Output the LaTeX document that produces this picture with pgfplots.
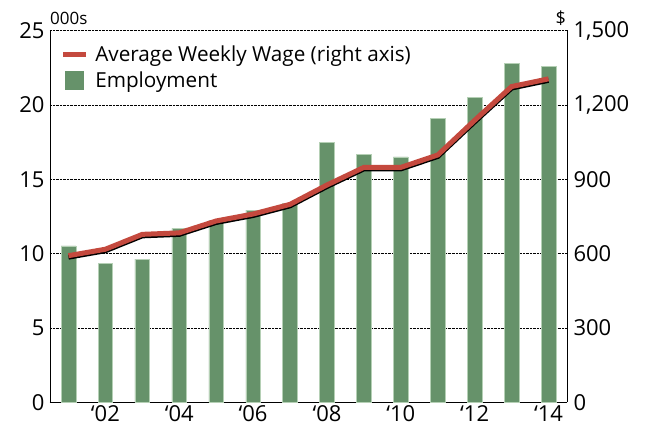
\documentclass[border=0pt]{standalone}
\usepackage{pgfplots}
\pgfplotsset{compat=1.18}
\usepackage{fontspec}
\setmainfont{Open Sans}
\definecolor{barg}{HTML}{66926A}
\definecolor{baredge}{HTML}{B5D0B5}
\definecolor{wred}{HTML}{C4493E}
\pgfplotstableread{
year emp wage
2001 10.52 592
2002 9.33 618
2003 9.63 678
2004 11.71 684
2005 12.25 732
2006 12.92 760
2007 13.40 799
2008 17.50 877
2009 16.69 948
2010 16.51 948
2011 19.11 998
2012 20.50 1138
2013 22.81 1274
2014 22.58 1305
}\data
\begin{document}
\begin{tikzpicture}[x=1bp,y=1bp]
\begin{axis}[
  at={(0,0)}, anchor=south west,
  width=517bp, height=372bp, scale only axis,
  xmin=2000.5, xmax=2014.5, ymin=0, ymax=25,
  axis x line*=bottom, axis y line*=left,
  axis line style={line width=0.8bp},
  xtick={2002,2004,...,2014},
  xticklabels={‘02,‘04,‘06,‘08,‘10,‘12,‘14},
  ytick={0,5,...,25},
  major tick length=0pt,
  ymajorgrids, grid style={black, densely dotted, line width=0.6bp},
  tick label style={font=\fontsize{22bp}{24bp}\selectfont},
  /pgf/number format/assume math mode=true,
  yticklabel style={xshift=-2bp},
  xticklabel style={yshift=0bp},
  legend style={at={(rel axis cs:0.02,0.965)}, anchor=north west, draw=none, fill=none,
    font=\fontsize{20.7bp}{23bp}\selectfont, row sep=5bp, inner sep=0pt,
    cells={anchor=west}},
  legend cell align=left,
]
\addlegendimage{legend image code/.code={\draw[wred, line width=5bp] (0bp,0bp) -- (23bp,0bp);\path (30bp,0bp);}}
\addlegendentry{Average Weekly Wage (right axis)}
\addplot[ybar, bar width=14.7bp, fill=barg, draw=baredge, line width=0.5bp,
  legend image code/.code={\fill[barg] (2bp,-9bp) rectangle (20bp,9bp);\path (30bp,0bp);}]
  table[x=year, y=emp] {\data};
\addlegendentry{Employment}
\end{axis}
\begin{axis}[
  at={(0,0)}, anchor=south west,
  width=517bp, height=372bp, scale only axis,
  xmin=2000.5, xmax=2014.5, ymin=0, ymax=1500,
  axis x line=none, axis y line*=right,
  axis line style={line width=0.8bp},
  ytick={0,300,...,1500},
  major tick length=0pt,
  tick label style={font=\fontsize{22bp}{24bp}\selectfont},
  /pgf/number format/assume math mode=true,
  yticklabel style={xshift=3bp},
]
\addplot[black, line width=5bp, yshift=-1.5bp] table[x=year, y=wage] {\data};
\addplot[wred, line width=5bp] table[x=year, y=wage] {\data};
\end{axis}
\node[anchor=base west, font=\fontsize{17bp}{19bp}\selectfont, inner sep=0pt] at (0bp,378bp) {000s};
\node[anchor=base east, font=\fontsize{18bp}{20bp}\selectfont, inner sep=0pt] at (516bp,378bp) {\$};
\pgfresetboundingbox
\path[use as bounding box] (-50bp,-28.5bp) rectangle (604bp,402.5bp);
\end{tikzpicture}
\end{document}
